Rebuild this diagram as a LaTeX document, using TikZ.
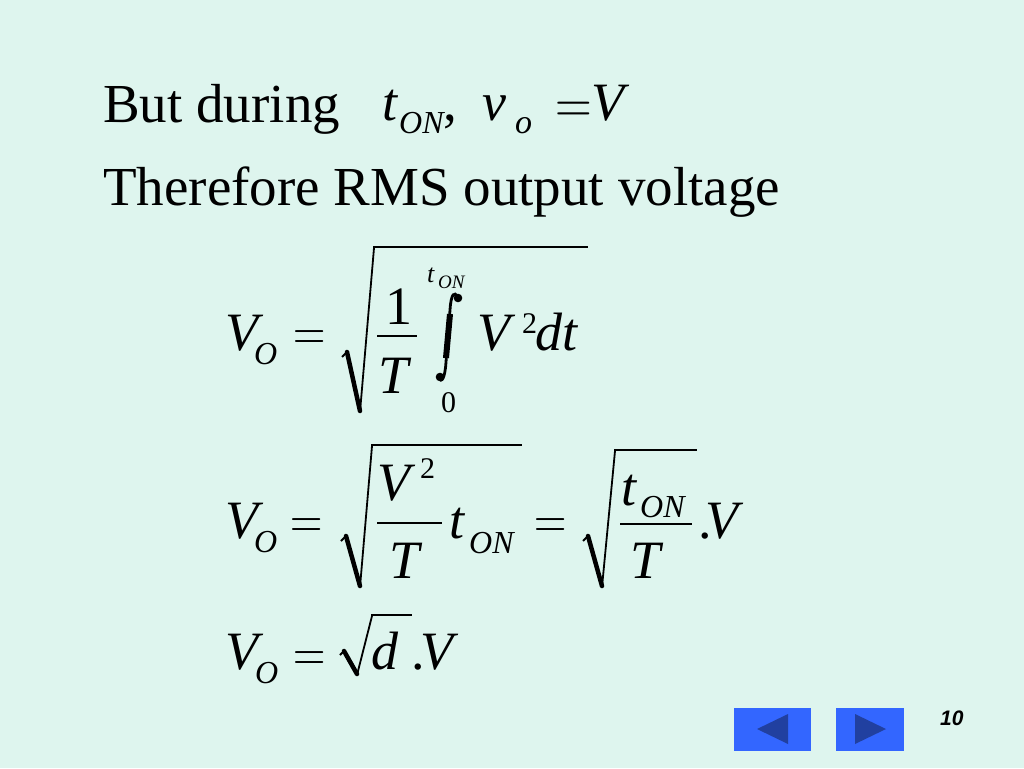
\documentclass[tikz,border=0pt]{standalone}
\usepackage{fontspec}
\setmainfont{Liberation Serif}
\newfontfamily\arialf{Liberation Sans}
\newfontfamily\lmfont{Latin Modern Roman}
\definecolor{bg}{RGB}{222,245,238}
\definecolor{btn}{RGB}{51,102,255}
\definecolor{tri}{RGB}{33,64,160}
\begin{document}
\begin{tikzpicture}[x=1pt,y=-1pt,
  txt/.style={anchor=base west,inner sep=0,font=\fontsize{55}{60}\selectfont},
  mi/.style={anchor=base west,inner sep=0,font=\fontsize{54}{60}\selectfont\itshape},
  mu/.style={anchor=base west,inner sep=0,font=\fontsize{54}{60}\selectfont},
  eqs/.style={anchor=base west,inner sep=0,xscale=0.8,font=\fontsize{56}{60}\selectfont\lmfont},
  sub/.style={anchor=base west,inner sep=0,font=\fontsize{32}{36}\selectfont\itshape},
  sup/.style={anchor=base west,inner sep=0,font=\fontsize{30}{34}\selectfont},
  lim/.style={anchor=base west,inner sep=0,font=\fontsize{26}{30}\selectfont\itshape},
  limsub/.style={anchor=base west,inner sep=0,font=\fontsize{19}{22}\selectfont\itshape},
  radthick/.style={line width=4.5pt,line cap=round},
  radthin/.style={line width=1.8pt},
  bar/.style={line width=2.6pt},
  fbar/.style={line width=2.4pt}]
\fill[bg] (0,0) rectangle (1024,768);
\useasboundingbox (0,0) rectangle (1024,768);
% line 1
\node[txt] (but) at (103,122) {But during};
\node[mi] (t1) at (382,120) {t};
\node[sub] (on1) at (399,133) {ON};
\node[txt] (comma) at (443,120) {,};
\node[mi] (v1) at (482,120) {v};
\node[sub,font=\fontsize{34}{38}\selectfont\itshape] (o1) at (515,133) {o};
\node[eqs,xscale=1.06,font=\fontsize{60}{64}\selectfont\lmfont] (eq0) at (555,123) {=};
\node[mi] (V1) at (591,120) {V};
% line 2
\node[txt] (there) at (103,205) {Therefore RMS output voltage};
% equation 1
\node[mi] (Va) at (225,350) {V};
\node[sub] (Oa) at (254,364) {O};
\node[eqs] (eqa) at (293.5,350) {=};
\draw[radthin] (342,357) -- (347,352);
\draw[radthick] (347,352) -- (360,411);
\draw[radthin] (360,412) -- (374,248);
\draw[bar] (373,247) -- (588,247);
\node[mu] (one) at (385,324) {1};
\draw[fbar] (377,336) -- (417,336);
\node[mi] (Ta) at (378,393) {T};
\draw[line width=2.8pt] (457,297) .. controls (455,291) and (451,293) .. (450,310) -- (446,362) .. controls (445,379) and (441,383) .. (440,378);
\draw[line width=6pt] (450,314) -- (446,358);
\fill (458,298) circle (4.3);
\fill (440,377) circle (4.3);
\node[lim] (tl) at (427,282) {t};
\node[limsub] (onl) at (438,288) {ON};
\node[anchor=base west,inner sep=0,font=\fontsize{30}{34}\selectfont] (zero) at (441,412) {0};
\node[mi] (Vb) at (477,350) {V};
\node[sup] (two) at (522,333) {2};
\node[mi] (dt) at (535,350) {dt};
% equation 2
\node[mi] (Vc) at (225,538) {V};
\node[sub] (Oc) at (254,552) {O};
\node[eqs] (eqc) at (290.5,538.6) {=};
\draw[radthin] (341,541) -- (346,536);
\draw[radthick] (346,536) -- (360,586);
\draw[radthin] (360,587) -- (372,446);
\draw[bar] (371,445) -- (522,445);
\node[mi] (Vd) at (377,500) {V};
\node[sup] (two2) at (420,478) {2};
\draw[fbar] (377,523) -- (442,523);
\node[mi] (Tc) at (389,578) {T};
\node[mi] (t2) at (449,538) {t};
\node[sub] (on2) at (469,553) {ON};
\node[eqs] (eqd) at (534.5,538.6) {=};
\draw[radthin] (583,541) -- (588,536);
\draw[radthick] (588,536) -- (602,586);
\draw[radthin] (602,587) -- (615,451);
\draw[bar] (614,450) -- (697,450);
\node[mi] (t3) at (621,505) {t};
\node[sub] (on3) at (640,517) {ON};
\draw[fbar] (620,524) -- (692,524);
\node[mi] (Td) at (630,578) {T};
\node[mu] (dot1) at (698,538) {.};
\node[mi] (Ve) at (705,538) {V};
% equation 3
\node[mi] (Vf) at (225,669) {V};
\node[sub] (Of) at (255,683) {O};
\node[eqs] (eqf) at (293.5,671) {=};
\draw[radthin] (340,655) -- (344,651);
\draw[radthick] (344,651) -- (357,674);
\draw[radthin] (357,675) -- (372,616);
\draw[bar] (371,615) -- (412,615);
\node[mi] (d) at (371,669) {d};
\node[mu] (dot2) at (411,669) {.};
\node[mi] (Vg) at (420,669) {V};
% buttons
\fill[btn] (734,708) rectangle (811,751);
\fill[tri] (757,729) -- (788,714) -- (788,744) -- cycle;
\fill[btn] (836,708) rectangle (904,751);
\fill[tri] (886,729) -- (855,714) -- (855,744) -- cycle;
\node[anchor=base west,inner sep=0,font=\fontsize{21}{24}\selectfont\arialf\bfseries\itshape] (page) at (940,725) {10};
\end{tikzpicture}
\end{document}
